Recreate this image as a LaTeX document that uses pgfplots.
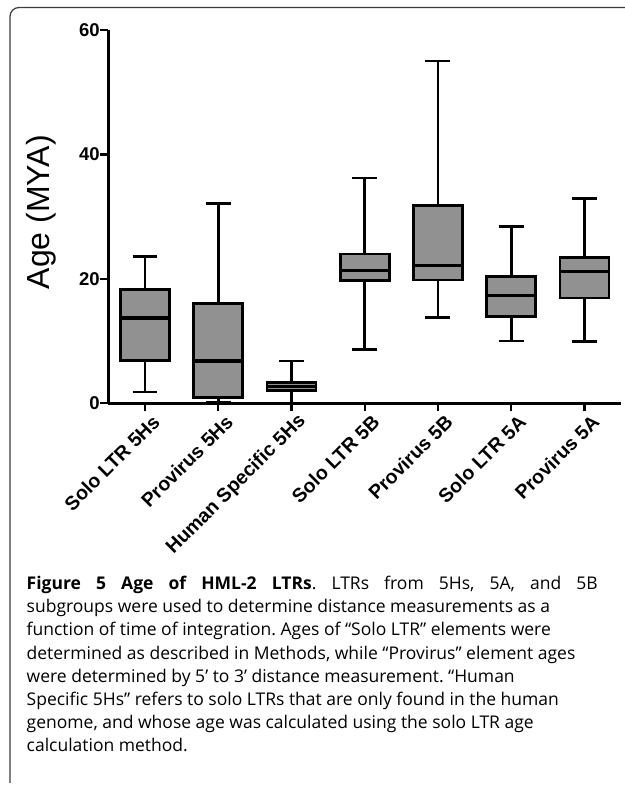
\documentclass[border=0pt]{standalone}
\usepackage{fontspec}
\setmainfont{Liberation Sans}
\newfontfamily\capfont{Open Sans}
\usepackage{pgfplots}
\usepgfplotslibrary{statistics}
\pgfplotsset{compat=1.18}
\definecolor{boxgray}{RGB}{145,145,145}
\definecolor{framegray}{RGB}{60,60,60}
\newcommand\tickfont{\fontsize{18.5bp}{20bp}\selectfont\bfseries}
\newcommand\xtickfont{\fontsize{19.5bp}{21bp}\selectfont\bfseries}
\newcommand\capsize{\capfont\fontsize{17.5bp}{23bp}\selectfont}
\pgfplotsset{gpbox/.style={draw=black, fill=boxgray, line width=2.7bp,
  boxplot/draw direction=y, boxplot/box extend=0.67, boxplot/whisker extend=0.34,
  boxplot/every box/.style={draw=black, fill=boxgray, line width=2.7bp},
  boxplot/every median/.style={draw=black, line width=3.2bp},
  boxplot/every whisker/.style={draw=black, line width=2.7bp}}}
\frenchspacing
\begin{document}
\begin{tikzpicture}[x=1bp,y=1bp]
\useasboundingbox (0,0) rectangle (625,786);
\begin{axis}[
  at={(108.4bp,382.7bp)}, anchor=south west,
  scale only axis, width=512.6bp, height=373.3bp,
  xmin=-0.5, xmax=6.5, ymin=0, ymax=60,
  axis x line=bottom, axis y line=left,
  axis line style={-, line width=2.6bp, black},
  ytick={0,20,40,60},
  xtick={0,1,2,3,4,5,6},
  xticklabels={Solo LTR 5Hs, Provirus 5Hs, Human Specific 5Hs, Solo LTR 5B, Provirus 5B, Solo LTR 5A, Provirus 5A},
  tick align=outside, major tick length=8bp,
  tick style={line width=2.4bp, black},
  /pgf/number format/assume math mode=true,
  yticklabel style={font=\tickfont, inner xsep=0.5bp},
  xticklabel style={font=\xtickfont, rotate=45, anchor=east, inner sep=0bp, yshift=-13bp, xshift=3bp},
  ylabel={Age (MYA)},
  ylabel style={font=\fontsize{32bp}{36bp}\selectfont, at={(axis description cs:-0.131,0.512)}, anchor=center},
  clip=false,
]
\addplot[gpbox, boxplot prepared={draw position=0, lower whisker=1.8, lower quartile=6.9, median=13.7, upper quartile=18.3, upper whisker=23.6}] coordinates {};
\addplot[gpbox, boxplot prepared={draw position=1, lower whisker=0.1, lower quartile=0.9, median=6.8, upper quartile=16.0, upper whisker=32.1}] coordinates {};
\addplot[gpbox, boxplot prepared={draw position=2, lower whisker=0.0, lower quartile=2.0, median=2.7, upper quartile=3.3, upper whisker=6.8}] coordinates {};
\addplot[gpbox, boxplot prepared={draw position=3, lower whisker=8.6, lower quartile=19.7, median=21.4, upper quartile=24.0, upper whisker=36.2}] coordinates {};
\addplot[gpbox, boxplot prepared={draw position=4, lower whisker=13.8, lower quartile=19.8, median=22.1, upper quartile=31.8, upper whisker=55.0}] coordinates {};
\addplot[gpbox, boxplot prepared={draw position=5, lower whisker=10.0, lower quartile=13.9, median=17.3, upper quartile=20.4, upper whisker=28.4}] coordinates {};
\addplot[gpbox, boxplot prepared={draw position=6, lower whisker=9.9, lower quartile=16.9, median=21.2, upper quartile=23.4, upper whisker=32.9}] coordinates {};
\end{axis}
\draw[framegray, line width=1.2bp, rounded corners=9bp] (10,3) -- (10,778.5) -- (625,778.5);
\node[anchor=base west, inner sep=0, font=\capsize] at (26.5,{786-589.5}) {\makebox[571bp][s]{\bfseries Figure 5 Age of HML-2 LTRs\mdseries. LTRs from 5Hs, 5A, and 5B}};
\node[anchor=base west, inner sep=0, font=\capsize] at (26.5,{786-612.7}) {subgroups were used to determine distance measurements as a};
\node[anchor=base west, inner sep=0, font=\capsize] at (26.5,{786-635.9}) {function of time of integration. Ages of “Solo LTR” elements were};
\node[anchor=base west, inner sep=0, font=\capsize] at (26.5,{786-659.1}) {determined as described in Methods, while “Provirus” element ages};
\node[anchor=base west, inner sep=0, font=\capsize] at (26.5,{786-682.3}) {were determined by 5’ to 3’ distance measurement. “Human};
\node[anchor=base west, inner sep=0, font=\capsize] at (26.5,{786-705.5}) {Specific 5Hs” refers to solo LTRs that are only found in the human};
\node[anchor=base west, inner sep=0, font=\capsize] at (26.5,{786-728.7}) {genome, and whose age was calculated using the solo LTR age};
\node[anchor=base west, inner sep=0, font=\capsize] at (26.5,{786-751.9}) {calculation method.};
\end{tikzpicture}
\end{document}
